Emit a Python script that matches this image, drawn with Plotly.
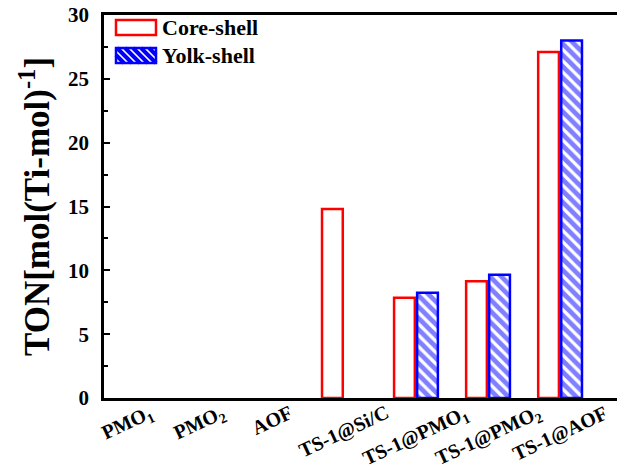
import plotly.graph_objects as go

categories = ["PMO1", "PMO2", "AOF", "TS-1@Si/C", "TS-1@PMO1", "TS-1@PMO2", "TS-1@AOF"]
tick_labels = ["PMO<sub>1</sub>", "PMO<sub>2</sub>", "AOF", "TS-1@Si/C",
               "TS-1@PMO<sub>1</sub>", "TS-1@PMO<sub>2</sub>", "TS-1@AOF"]
core_shell = [None, None, None, 14.8, 7.85, 9.15, 27.1]
yolk_shell = [None, None, None, None, 8.25, 9.65, 28.0]

FONT = "Liberation Serif"
W, H = 617, 472
ML, MR, MT, MB = 104, 0, 15, 74

fig = go.Figure()
fig.add_trace(go.Bar(
    x=categories, y=core_shell, name="Core-shell",
    marker=dict(color="white", line=dict(color="#ff0000", width=2.5)),
    showlegend=False,
))
fig.add_trace(go.Bar(
    x=categories, y=yolk_shell, name="Yolk-shell",
    marker=dict(color="white", line=dict(color="#0000ff", width=2.5),
                pattern=dict(shape="\\", fgcolor="#0000ff", bgcolor="white",
                             size=8, solidity=0.6)),
    showlegend=False,
))

# category tick labels rotated about their centres
for c, lab in zip(categories, tick_labels):
    fig.add_annotation(x=c, xref="x", y=-0.005, yref="paper", text=lab,
                       textangle=-25, showarrow=False, xanchor="center",
                       yanchor="top", borderpad=0,
                       font=dict(family=FONT, size=20, color="black", weight="bold"))

# manual legend
pw = W - ML - MR
ph = H - MT - MB
def px(xp):
    return (xp - ML) / pw
def py(yp):
    return (H - MB - yp) / ph

legend_items = [("Core-shell", "#ff0000", False, 20, 35),
                ("Yolk-shell", "#0000ff", True, 48, 63)]
x0p, x1p = 116, 156
for name, col, hatch, y0p, y1p in legend_items:
    if hatch:
        segs = []
        step = 8
        c = x0p - (y1p - y0p)
        while c < x1p:
            ya, yb = y0p, y1p
            xa, xb = c, c + (y1p - y0p)
            if xa < x0p:
                ya = ya + (x0p - xa); xa = x0p
            if xb > x1p:
                yb = yb - (xb - x1p); xb = x1p
            if xb > xa:
                segs.append(f"M{px(xa)},{py(ya)} L{px(xb)},{py(yb)}")
            c += step
        fig.add_shape(type="path", xref="paper", yref="paper",
                      path=" ".join(segs), line=dict(color=col, width=4))
    fig.add_shape(type="rect", xref="paper", yref="paper",
                  x0=px(x0p), x1=px(x1p), y0=py(y1p), y1=py(y0p),
                  line=dict(color=col, width=2.5), fillcolor="rgba(0,0,0,0)")
    fig.add_annotation(x=px(160), y=py((y0p + y1p) / 2), xref="paper", yref="paper",
                       text=f"<b>{name}</b>", showarrow=False, xanchor="left",
                       yanchor="middle",
                       font=dict(family=FONT, size=22, color="black"))

fig.update_layout(
    width=W, height=H,
    margin=dict(l=ML, r=MR, t=MT, b=MB),
    paper_bgcolor="white", plot_bgcolor="white",
    barmode="group", bargap=0.36, bargroupgap=0.1,
    font=dict(family=FONT, color="black"),
    xaxis=dict(range=[-0.33, 6.79], showticklabels=False, ticks="",
               showline=True, linecolor="black", linewidth=2.5, mirror=True,
               showgrid=False, zeroline=False),
    yaxis=dict(range=[0, 30], tickvals=[0, 5, 10, 15, 20, 25, 30],
               ticks="inside", ticklen=6, tickwidth=2, tickcolor="black",
               minor=dict(ticks="inside", ticklen=4, tickwidth=2, dtick=2.5,
                          tickcolor="black", showgrid=False),
               showline=True, linecolor="black", linewidth=2.5, mirror=False,
               showgrid=False, zeroline=False,
               tickfont=dict(family=FONT, size=21, color="black", weight="bold"),
               ticklabelstandoff=8,
               title=dict(text="TON[mol(Ti-mol)<sup>-1</sup>]", standoff=8,
                          font=dict(family=FONT, size=35, color="black",
                                    weight="bold"))),
)

fig.write_html("out.html")
